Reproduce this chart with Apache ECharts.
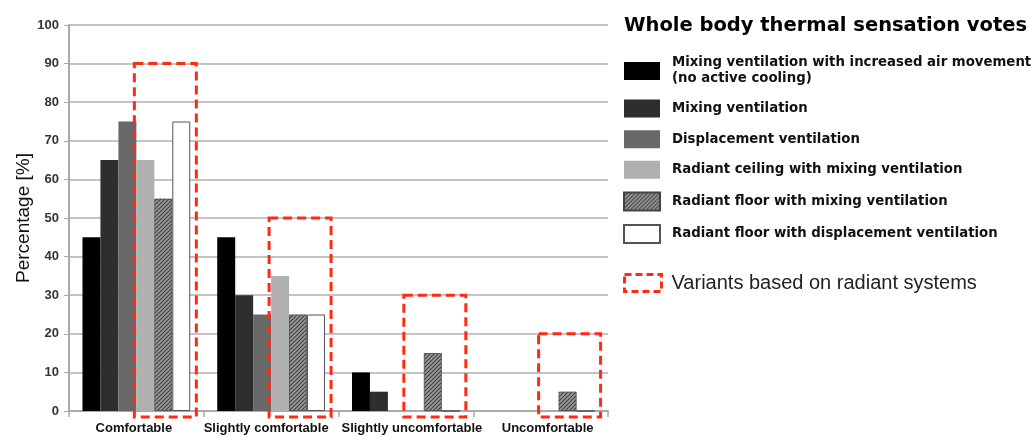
<!DOCTYPE html>
<html><head><meta charset="utf-8">
<script src="https://cdn.jsdelivr.net/npm/echarts@6/dist/echarts.min.js"></script>
<style>html,body{margin:0;padding:0;background:#fff}#c{width:1033px;height:435px}</style>
</head><body><div id="c"></div>
<script>
const categories = ['Comfortable', 'Slightly comfortable', 'Slightly uncomfortable', 'Uncomfortable'];
const seriesNames = [
  'Mixing ventilation with increased air movement\n(no active cooling)',
  'Mixing ventilation',
  'Displacement ventilation',
  'Radiant ceiling with mixing ventilation',
  'Radiant floor with mixing ventilation',
  'Radiant floor with displacement ventilation'
];
const mixingIncreased = [45, 45, 10, 0];
const mixing = [65, 30, 5, 0];
const displacement = [75, 25, 0, 0];
const radiantCeilingMixing = [65, 35, 0, 0];
const radiantFloorMixing = [55, 25, 15, 5];
const radiantFloorDisplacement = [75, 25, 0, 0];
const radiantBoxTops = [90, 50, 30, 20];
const boxName = 'Variants based on radiant systems';
const yTicks = [0, 100, 10];

function hatch() {
  const c = document.createElement('canvas');
  c.width = 4; c.height = 4;
  const g = c.getContext('2d');
  g.fillStyle = '#9a9a9a'; g.fillRect(0, 0, 4, 4);
  g.strokeStyle = '#444444'; g.lineWidth = 1.2;
  g.beginPath();
  g.moveTo(-1, 5); g.lineTo(5, -1);
  g.moveTo(-1, 1); g.lineTo(1, -1);
  g.moveTo(3, 5); g.lineTo(5, 3);
  g.stroke();
  return c;
}
const hatchPat = { image: hatch(), repeat: 'repeat' };

const styles = [
  { color: '#000000' },
  { color: '#2e2e2e' },
  { color: '#686868' },
  { color: '#b0b0b0' },
  { color: hatchPat, borderColor: '#444', borderWidth: 0.8 },
  { color: '#ffffff', borderColor: '#555', borderWidth: 1 }
];
const values = [mixingIncreased, mixing, displacement, radiantCeilingMixing, radiantFloorMixing, radiantFloorDisplacement];

const chart = echarts.init(document.getElementById('c'));
const barSeries = values.map((v, i) => ({
  name: seriesNames[i], type: 'bar', data: v,
  barGap: '0%', barCategoryGap: '20%',
  itemStyle: styles[i], z: 2
}));

const boxSeries = {
  name: boxName, type: 'custom', z: 5,
  data: radiantBoxTops.map((t, i) => [i, t]),
  renderItem: function (params, api) {
    const c = api.coord([api.value(0), api.value(1)]);
    const base = api.coord([api.value(0), 0]);
    const bw = api.size([1, 0])[0];
    const x0 = c[0] - bw * 0.015, x1 = c[0] + bw * 0.445;
    const y0 = c[1], y1 = base[1] + 6;
    return {
      type: 'rect',
      shape: { x: x0, y: y0, width: x1 - x0, height: y1 - y0 },
      style: { fill: 'none', stroke: '#ff2a12', lineWidth: 3, lineDash: [9, 5] }
    };
  }
};

const labelFont = { fontFamily: 'Liberation Sans', fontWeight: 'bold', fontSize: 13, color: '#111' };

chart.setOption({
  animation: false,
  title: {
    text: 'Whole body thermal sensation votes', left: 624, top: 16, padding: 0,
    textStyle: { fontFamily: 'DejaVu Sans', fontWeight: 'bold', fontSize: 19.5, color: '#000' }
  },
  legend: [{
    data: seriesNames, orient: 'vertical', left: 623, top: 55, padding: 0,
    itemWidth: 36, itemHeight: 18, itemGap: 12.6, icon: 'rect',
    textStyle: { fontFamily: 'DejaVu Sans', fontWeight: 'bold', fontSize: 13.3, color: '#111', lineHeight: 16, padding: [0, 0, 0, 7] }
  }, {
    data: [{ name: boxName, icon: 'rect', itemStyle: { color: 'rgba(0,0,0,0)', borderColor: '#ff2a12', borderWidth: 3, borderType: [7, 4] } }],
    left: 623, top: 273, padding: 0, itemWidth: 37, itemHeight: 17,
    textStyle: { fontFamily: 'Liberation Sans', fontSize: 20, color: '#222', padding: [0, 0, 0, 5] }
  }],
  grid: { left: 69, right: 425, top: 25, bottom: 24, containLabel: false },
  xAxis: {
    type: 'category', data: categories,
    axisLine: { lineStyle: { color: '#aaa', width: 2 } },
    axisTick: { show: true, length: 6, lineStyle: { color: '#aaa', width: 1.5 } },
    axisLabel: Object.assign({
      interval: 0, margin: 11,
      formatter: function (v, i) { return '{s' + i + '|' + v + '}'; },
      rich: {
        s0: Object.assign({ padding: [0, 5, 0, 0] }, labelFont),
        s1: Object.assign({ padding: [0, 10, 0, 0] }, labelFont),
        s2: Object.assign({ padding: [0, 0, 0, 12] }, labelFont),
        s3: Object.assign({ padding: [0, 0, 0, 14] }, labelFont)
      }
    }, labelFont)
  },
  yAxis: {
    type: 'value', min: yTicks[0], max: yTicks[1], interval: yTicks[2],
    name: 'Percentage [%]', nameLocation: 'middle', nameGap: 36, nameMoveOverlap: false,
    nameTextStyle: { fontFamily: 'Liberation Sans', fontSize: 19, color: '#111' },
    axisLine: { show: true, lineStyle: { color: '#aaa', width: 2 } },
    axisTick: { show: true, length: 5, lineStyle: { color: '#aaa' } },
    splitLine: { lineStyle: { color: '#c4c4c4', width: 2 } },
    axisLabel: { fontFamily: 'Liberation Sans', fontWeight: 'bold', fontSize: 13, color: '#333', margin: 10 }
  },
  series: barSeries.concat([boxSeries])
});
</script></body></html>
